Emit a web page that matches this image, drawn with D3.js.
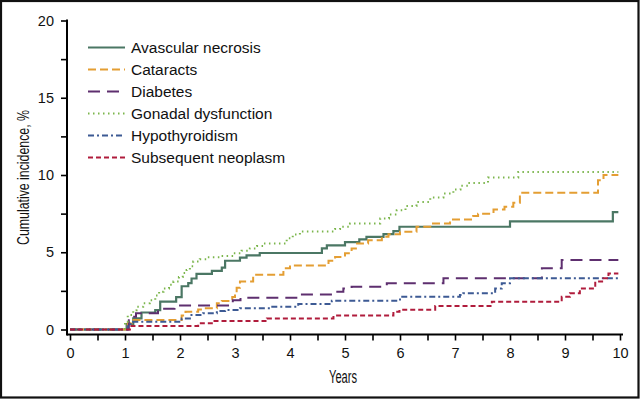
<!DOCTYPE html>
<html><head><meta charset="utf-8">
<script src="https://cdn.jsdelivr.net/npm/d3@7"></script>
<style>
html,body{margin:0;padding:0;background:#fff;}
svg{display:block;}
text{font-family:"Liberation Sans",Arial,Helvetica,sans-serif;}
</style></head><body>
<svg id="c" width="640" height="400"></svg>
<script>
const seriesNames = ["Avascular necrosis","Cataracts","Diabetes","Gonadal dysfunction","Hypothyroidism","Subsequent neoplasm"];
const seriesColors = ["#4b7764","#e49e33","#5e2f6f","#7cb64d","#3d5a94","#b01c3c"];
const seriesDash = ["none","8,4","12,7","1.5,3.5","6,3,2,3","5,3"];
const xTicks = [0,1,2,3,4,5,6,7,8,9,10];
const yTicks = [0,5,10,15,20];
const endTime = 9.97;

// step data: [time, value from that time onward]
const avascular = [[0,0],[1.03,0.35],[1.15,0.72],[1.3,1.1],[1.55,1.25],[1.64,1.8],[1.93,2.1],[2.03,2.8],[2.15,3.0],[2.21,3.3],[2.3,3.6],[2.58,3.8],[2.76,4.0],[2.82,4.45],[3.09,4.65],[3.21,4.8],[3.45,4.95],[4.58,5.25],[4.67,5.45],[5.0,5.65],[5.26,5.83],[5.39,6.0],[5.7,6.17],[5.88,6.37],[5.99,6.65],[8.0,7.0],[9.87,7.6]];
const cataracts = [[0,0],[1.05,0.4],[1.12,0.62],[2.03,0.9],[2.1,1.15],[2.33,1.3],[2.45,1.37],[2.67,1.7],[2.76,1.85],[2.95,2.1],[3.0,2.4],[3.03,2.7],[3.09,3.1],[3.33,3.55],[3.88,3.96],[4.0,4.15],[4.7,4.45],[4.82,4.7],[5.0,4.93],[5.12,5.25],[5.22,5.57],[5.42,5.78],[5.67,6.0],[5.79,6.17],[6.0,6.32],[6.3,6.65],[6.55,6.86],[6.91,7.12],[7.33,7.35],[7.42,7.5],[7.7,7.77],[7.9,7.95],[8.06,8.2],[8.18,8.85],[9.6,9.66],[9.7,10.0]];
const diabetes = [[0,0],[1.07,0.6],[1.12,0.83],[1.2,1.05],[1.6,1.35],[1.9,1.55],[2.93,1.75],[2.96,1.9],[3.1,2.05],[4.15,2.12],[4.18,2.27],[4.77,2.44],[4.97,2.66],[5.12,2.77],[5.76,2.99],[6.79,3.31],[8.58,3.96],[8.94,4.5]];
const gonadal = [[0,0],[1.0,0.5],[1.05,0.94],[1.15,1.25],[1.21,1.47],[1.33,1.7],[1.45,1.9],[1.55,2.2],[1.62,2.45],[1.7,2.66],[1.8,2.9],[1.88,3.1],[1.98,3.4],[2.05,3.65],[2.12,3.85],[2.18,4.1],[2.24,4.4],[2.36,4.55],[2.48,4.67],[2.73,4.75],[2.97,4.93],[3.12,5.1],[3.27,5.25],[3.4,5.4],[3.52,5.57],[3.94,5.9],[4.05,6.15],[4.18,6.35],[4.82,6.5],[4.91,6.65],[5.09,6.86],[5.64,7.19],[5.8,7.45],[5.94,7.72],[6.1,8.0],[6.3,8.26],[6.55,8.55],[6.79,8.8],[6.97,9.06],[7.1,9.3],[7.24,9.49],[7.6,9.84],[8.15,10.2]];
const hypothyroid = [[0,0],[1.05,0.35],[1.15,0.5],[2.03,0.72],[2.18,0.94],[2.42,1.05],[2.67,1.2],[2.82,1.26],[3.09,1.37],[3.64,1.47],[4.15,1.65],[4.76,1.86],[6.0,2.12],[7.09,2.23],[7.15,2.34],[7.73,2.66],[7.85,2.99],[8.0,3.31]];
const neoplasm = [[0,0],[1.09,0.23],[2.33,0.4],[2.6,0.55],[3.58,0.72],[4.79,0.9],[5.88,1.15],[5.99,1.28],[6.64,1.52],[7.67,1.8],[8.94,2.12],[9.09,2.34],[9.27,2.66],[9.55,3.1],[9.7,3.31],[9.79,3.63]];
const seriesData = [avascular,cataracts,diabetes,gonadal,hypothyroid,neoplasm];

const svg = d3.select("#c");
const x = d3.scaleLinear().domain([0,10]).range([70,620]);
const y = d3.scaleLinear().domain([0,20]).range([329.5,20.5]);
const axisY = 67, axisX = 334.5;

// frame
svg.append("rect").attr("x",1).attr("y",1).attr("width",637.5).attr("height",396.5)
  .attr("fill","none").attr("stroke","#111").attr("stroke-width",2.2);

// y axis
const gy = svg.append("g").attr("transform",`translate(${axisY},0)`);
gy.call(d3.axisLeft(y).tickValues(d3.range(0,20.1,2.5)).tickSize(6).tickFormat(""))
  .call(g=>g.select(".domain").remove());
gy.call(g=>g.selectAll(".tick line").attr("stroke","#000").attr("stroke-width",1.6));
gy.append("g").call(d3.axisLeft(y).tickValues(yTicks).tickSize(0).tickPadding(13))
  .call(g=>g.select(".domain").remove())
  .call(g=>g.selectAll("text").attr("fill","#111").style("font-size","14.5px").style("font-family","'Liberation Sans',Arial,sans-serif"));
svg.append("line").attr("x1",axisY).attr("x2",axisY).attr("y1",y(20)-1).attr("y2",axisX+1)
  .attr("stroke","#000").attr("stroke-width",2);

// x axis
const gx = svg.append("g").attr("transform",`translate(0,${axisX})`);
gx.call(d3.axisBottom(x).tickValues(d3.range(0,10.01,0.5)).tickSize(6).tickFormat(""))
  .call(g=>g.select(".domain").remove());
gx.call(g=>g.selectAll(".tick line").attr("stroke","#000").attr("stroke-width",1.6));
gx.append("g").call(d3.axisBottom(x).tickValues(xTicks).tickSize(0).tickPadding(13))
  .call(g=>g.select(".domain").remove())
  .call(g=>g.selectAll("text").attr("fill","#111").style("font-size","14.5px").style("font-family","'Liberation Sans',Arial,sans-serif"));
svg.append("line").attr("x1",axisY).attr("x2",623).attr("y1",axisX).attr("y2",axisX)
  .attr("stroke","#000").attr("stroke-width",2);

// labels (condensed look)
svg.append("text").attr("x",343).attr("y",383).attr("text-anchor","middle")
  .attr("textLength",28).attr("lengthAdjust","spacingAndGlyphs")
  .style("font-size","17.5px").attr("fill","#111").text("Years");
svg.append("text").attr("transform","translate(29,177.5) rotate(-90)").attr("text-anchor","middle")
  .attr("textLength",135).attr("lengthAdjust","spacingAndGlyphs")
  .style("font-size","16.5px").attr("fill","#111").text("Cumulative incidence, %");

// curves
const line = d3.line().x(d=>x(d[0])).y(d=>y(d[1])).curve(d3.curveStepAfter);
seriesData.forEach((s,i)=>{
  const pts = s.concat([[endTime, s[s.length-1][1]]]);
  svg.append("path").datum(pts).attr("d",line).attr("fill","none")
    .attr("stroke",seriesColors[i]).attr("stroke-width", i===0?2.2:2)
    .attr("stroke-dasharray",seriesDash[i]==="none"?null:seriesDash[i]);
});

// legend
const lg = svg.append("g");
seriesNames.forEach((n,i)=>{
  const yy = 47.5 + i*22;
  lg.append("line").attr("x1",88).attr("x2",125).attr("y1",yy).attr("y2",yy)
    .attr("stroke",seriesColors[i]).attr("stroke-width",i===0?2.2:2)
    .attr("stroke-dasharray",seriesDash[i]==="none"?null:seriesDash[i]);
  lg.append("text").attr("x",131).attr("y",yy).attr("dy","0.35em")
    .style("font-size","15.5px").attr("fill","#111").text(n);
});
</script>
</body></html>
